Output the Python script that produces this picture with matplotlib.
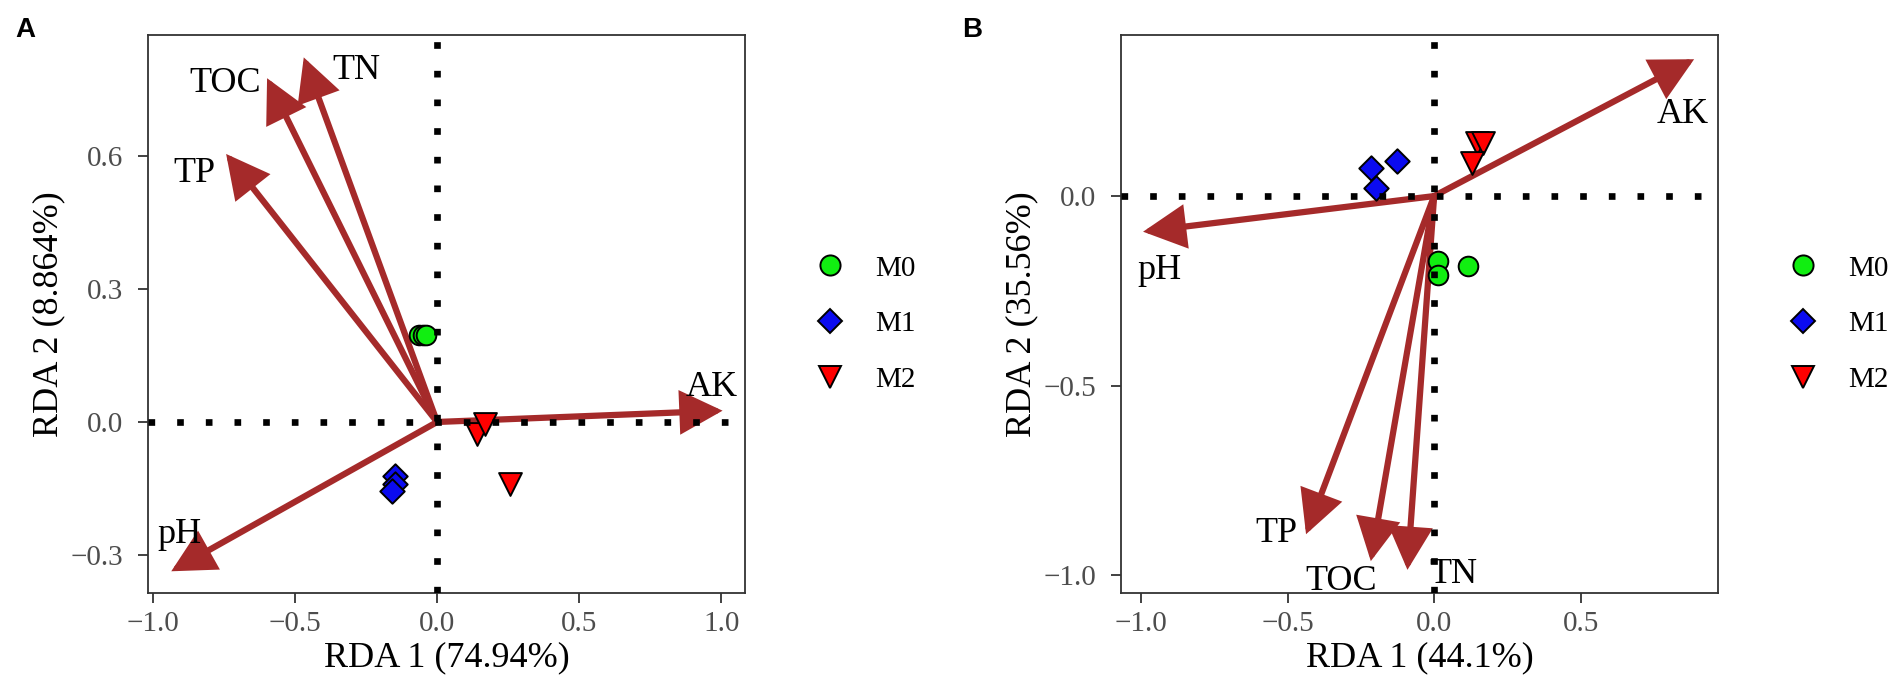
import matplotlib
matplotlib.use('Agg')
import matplotlib.pyplot as plt
from matplotlib.lines import Line2D

plt.rcParams['font.family'] = ['Liberation Serif', 'DejaVu Serif']

# environmental vectors (biplot scores)
env = ['TOC', 'TN', 'TP', 'pH', 'AK']
a_env_x = [-0.598, -0.469, -0.742, -0.935, 1.004]
a_env_y = [0.776, 0.823, 0.605, -0.337, 0.0255]
b_env_x = [-0.216, -0.091, -0.437, -0.993, 0.887]
b_env_y = [-0.963, -0.986, -0.892, -0.094, 0.361]

# label spots for the vectors
a_lab_x = [-0.746, -0.283, -0.852, -0.905, 0.966]
a_lab_y = [0.774, 0.803, 0.571, -0.244, 0.087]
b_lab_x = [-0.318, 0.065, -0.538, -0.936, 0.848]
b_lab_y = [-1.006, -0.987, -0.879, -0.187, 0.227]

# sample scores
groups = ['M0', 'M1', 'M2']
a_m0_x = [-0.062, -0.050, -0.039]
a_m0_y = [0.196, 0.197, 0.196]
a_m1_x = [-0.149, -0.149, -0.158]
a_m1_y = [-0.121, -0.139, -0.155]
a_m2_x = [0.142, 0.168, 0.258]
a_m2_y = [-0.027, -0.005, -0.141]

b_m0_x = [0.013, 0.013, 0.114]
b_m0_y = [-0.171, -0.208, -0.185]
b_m1_x = [-0.217, -0.126, -0.198]
b_m1_y = [0.073, 0.093, 0.020]
b_m2_x = [0.145, 0.166, 0.129]
b_m2_y = [0.141, 0.141, 0.088]

a_xticks = [-1.0, -0.5, 0.0, 0.5, 1.0]
a_xticklabels = ['\u22121.0', '\u22120.5', '0.0', '0.5', '1.0']
a_yticks = [-0.3, 0.0, 0.3, 0.6]
a_yticklabels = ['\u22120.3', '0.0', '0.3', '0.6']
b_xticks = [-1.0, -0.5, 0.0, 0.5]
b_xticklabels = ['\u22121.0', '\u22120.5', '0.0', '0.5']
b_yticks = [-1.0, -0.5, 0.0]
b_yticklabels = ['\u22121.0', '\u22120.5', '0.0']

colors = ['#11EE11', '#0B0BF0', '#FF0000']
markers = ['o', 'D', 'v']
sizes = [200, 155, 270]
arrow_col = '#A52A2A'

fig = plt.figure(figsize=(19.04, 6.83), dpi=100)
axA = fig.add_axes([0.0777, 0.1318, 0.3136, 0.817])
axB = fig.add_axes([0.5888, 0.1318, 0.3136, 0.817])


def draw(ax, ex, ey, lx, ly, pts, xlim, ylim, xt, xtl, yt, ytl, xlab, ylab):
    for i in range(len(env)):
        ax.annotate('', xy=(ex[i], ey[i]), xytext=(0, 0),
                    arrowprops=dict(arrowstyle='-|>,head_length=1.2,head_width=0.62',
                                    mutation_scale=20, lw=4.5, color=arrow_col,
                                    shrinkA=0, shrinkB=0, joinstyle='miter'),
                    zorder=2)
        ax.annotate(env[i], xy=(lx[i], ly[i]), xytext=(0, -9),
                    textcoords='offset points', ha='center', va='baseline',
                    fontsize=26, color='black', zorder=5)
    for k, (px, py) in enumerate(pts):
        ax.scatter(px, py, s=sizes[k], marker=markers[k], c=colors[k],
                   edgecolors='black', linewidths=1.4, zorder=3)
    ax.axhline(0, color='black', lw=4.8, linestyle=(0, (1, 3.3)),
               dash_capstyle='butt', zorder=4)
    ax.axvline(0, color='black', lw=4.8, linestyle=(0, (1, 3.3)),
               dash_capstyle='butt', zorder=4)
    ax.set_xlim(xlim)
    ax.set_ylim(ylim)
    ax.set_xticks(xt)
    ax.set_xticklabels(xtl)
    ax.set_yticks(yt)
    ax.set_yticklabels(ytl)
    ax.tick_params(axis='both', direction='out', length=7, width=1.3,
                   color='#333333', labelcolor='#4D4D4D', labelsize=21)
    ax.tick_params(axis='x', pad=6)
    ax.tick_params(axis='y', pad=11)
    for s in ax.spines.values():
        s.set_color('#333333')
        s.set_linewidth(1.3)
    ax.set_xlabel(xlab, fontsize=26)
    ax.set_ylabel(ylab, fontsize=26)
    ax.xaxis.set_label_coords(0.5, -0.1165)
    ax.yaxis.set_label_coords(-0.166, 0.5)
    ax.xaxis.label.set_va('center')
    ax.yaxis.label.set_va('center')
    handles = [Line2D([], [], linestyle='none', marker=markers[k],
                      markersize=[14.5, 12, 16][k], markerfacecolor=colors[k],
                      markeredgecolor='black', markeredgewidth=1.4)
               for k in range(3)]
    ax.legend(handles, groups, loc='center left', bbox_to_anchor=(1.115, 0.482),
              frameon=False, fontsize=21, handlelength=1.1, handletextpad=1.0,
              labelspacing=1.0, borderpad=0, borderaxespad=0)


draw(axA, a_env_x, a_env_y, a_lab_x, a_lab_y,
     [(a_m0_x, a_m0_y), (a_m1_x, a_m1_y), (a_m2_x, a_m2_y)],
     (-1.017, 1.083), (-0.386, 0.8736), a_xticks, a_xticklabels,
     a_yticks, a_yticklabels, 'RDA 1 (74.94%)', 'RDA 2 (8.864%)')
draw(axB, b_env_x, b_env_y, b_lab_x, b_lab_y,
     [(b_m0_x, b_m0_y), (b_m1_x, b_m1_y), (b_m2_x, b_m2_y)],
     (-1.068, 0.969), (-1.047, 0.425), b_xticks, b_xticklabels,
     b_yticks, b_yticklabels, 'RDA 1 (44.1%)', 'RDA 2 (35.56%)')

fig.text(25 / 1904, 1 - 30 / 683, 'A', family=['Liberation Sans', 'DejaVu Sans'],
         fontweight='bold', fontsize=20, ha='center', va='center')
fig.text(972 / 1904, 1 - 30 / 683, 'B', family=['Liberation Sans', 'DejaVu Sans'],
         fontweight='bold', fontsize=20, ha='center', va='center')

fig.savefig('out.png', dpi=100)
